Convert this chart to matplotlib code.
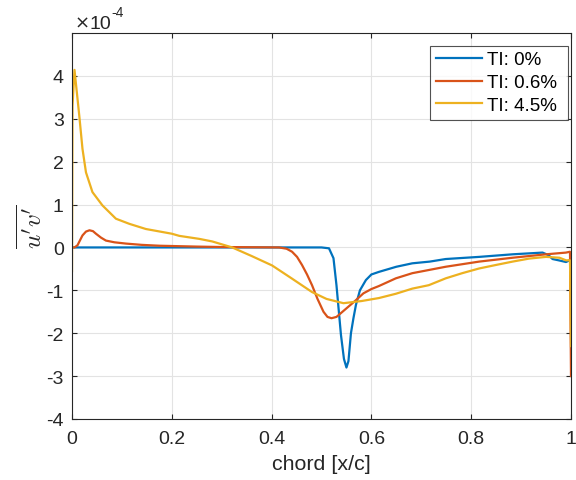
import matplotlib
matplotlib.use("Agg")
import matplotlib.pyplot as plt

plt.rcParams['font.family'] = ['Liberation Sans', 'DejaVu Sans']
plt.rcParams['mathtext.fontset'] = 'cm'

# values in units of 1e-4
x_ti0 = [0, 0.50, 0.515, 0.524, 0.530, 0.539, 0.545, 0.550, 0.554, 0.559, 0.564, 0.569, 0.577,
         0.589, 0.600, 0.615, 0.650, 0.682, 0.717, 0.749, 0.816, 0.883, 0.943, 0.955, 0.963,
         0.975, 0.990, 0.997]
y_ti0 = [0, 0, -0.02, -0.25, -0.88, -2.04, -2.6, -2.8, -2.65, -2.0, -1.65, -1.34, -1.0,
         -0.76, -0.63, -0.57, -0.45, -0.37, -0.33, -0.27, -0.22, -0.16, -0.12, -0.18, -0.27,
         -0.30, -0.34, -0.30]

x_ti06 = [0, 0.005, 0.011, 0.021, 0.028, 0.035, 0.042, 0.048, 0.058, 0.068, 0.085, 0.108, 0.14,
          0.175, 0.25, 0.30, 0.415, 0.43, 0.441, 0.451, 0.461, 0.471, 0.481, 0.492, 0.504,
          0.512, 0.52, 0.53, 0.54, 0.55, 0.567, 0.584, 0.60, 0.615, 0.649, 0.682, 0.749, 0.816,
          0.883, 0.95, 0.99, 0.998, 1.0]
y_ti06 = [0, 0.0, 0.05, 0.28, 0.37, 0.40, 0.38, 0.32, 0.23, 0.16, 0.12, 0.09, 0.06,
          0.04, 0.02, 0.01, 0.0, -0.03, -0.10, -0.22, -0.41, -0.63, -0.88, -1.2, -1.5,
          -1.62, -1.65, -1.62, -1.52, -1.42, -1.25, -1.07, -0.97, -0.90, -0.72, -0.60, -0.45, -0.33,
          -0.24, -0.16, -0.12, -0.10, -3.0]

x_ti45 = [0, 0.001, 0.005, 0.0146, 0.021, 0.028, 0.041, 0.061, 0.088, 0.115, 0.148, 0.2, 0.215,
          0.255, 0.281, 0.321, 0.36, 0.401, 0.44, 0.481, 0.51, 0.544, 0.58, 0.615, 0.649, 0.682,
          0.715, 0.749, 0.782, 0.816, 0.849, 0.883, 0.916, 0.95, 0.977, 0.99, 0.998, 1.0]
y_ti45 = [-0.55, 3.3, 4.14, 3.07, 2.3, 1.75, 1.29, 0.98, 0.67, 0.55, 0.43, 0.32, 0.27,
          0.20, 0.14, 0.0, -0.20, -0.42, -0.72, -1.04, -1.2, -1.3, -1.25, -1.18, -1.08, -0.96,
          -0.88, -0.72, -0.60, -0.49, -0.41, -0.33, -0.26, -0.22, -0.24, -0.30, -0.30, -2.3]

labels = ['TI: 0%', 'TI: 0.6%', 'TI: 4.5%']
colors = ['#0072BD', '#D95319', '#EDB120']
xticks = [0, 0.2, 0.4, 0.6, 0.8, 1]
xticklabels = ['0', '0.2', '0.4', '0.6', '0.8', '1']
yticks = [-4, -3, -2, -1, 0, 1, 2, 3, 4]

fig = plt.figure(figsize=(5.76, 4.81), dpi=100)
ax = fig.add_axes([72 / 576, 61 / 481, 499 / 576, 386 / 481])

for xs, ys, lab, c in zip([x_ti0, x_ti06, x_ti45], [y_ti0, y_ti06, y_ti45], labels, colors):
    ax.plot(xs, ys, color=c, lw=1.6, label=lab + ' ')

ax.set_xlim(0, 1)
ax.set_ylim(-4, 5)
ax.set_xticks(xticks)
ax.set_xticklabels(xticklabels)
ax.set_yticks(yticks)
ax.set_yticklabels([str(t) for t in yticks])
ax.grid(True, color='#e3e3e3', lw=0.8)
ax.set_axisbelow(True)
ax.tick_params(direction='in', top=True, right=True, length=3.6, width=0.8,
               labelsize=14, colors='#262626')
ax.tick_params(axis='x', pad=8)
ax.tick_params(axis='y', pad=6)
for s in ax.spines.values():
    s.set_color('#262626')
    s.set_linewidth(0.8)

ax.set_xlabel('chord [x/c]', fontsize=15.4, color='#262626', labelpad=5)
ax.set_ylabel(r"$\overline{u'v'}$", fontsize=18, color='#262626', labelpad=-1)
ax.annotate('×', xy=(0, 1), xycoords='axes fraction', xytext=(1.5, 4),
            textcoords='offset points', fontsize=13, ha='left', va='baseline',
            color='#262626', family=['DejaVu Sans'])
ax.annotate('10', xy=(0, 1), xycoords='axes fraction', xytext=(12.5, 3.5),
            textcoords='offset points', fontsize=14, ha='left', va='baseline',
            color='#262626')
ax.annotate('-4', xy=(0, 1), xycoords='axes fraction', xytext=(28.5, 12),
            textcoords='offset points', fontsize=10, ha='left', va='baseline',
            color='#262626')

leg = ax.legend(loc='upper right', bbox_to_anchor=(0.994, 0.967), fontsize=13.5,
                frameon=True, fancybox=False, edgecolor='#262626', borderaxespad=0,
                handlelength=2.45, labelspacing=0.3, borderpad=0.3, handletextpad=0.3)
leg.get_frame().set_linewidth(0.8)

fig.savefig('out.png', dpi=100)
